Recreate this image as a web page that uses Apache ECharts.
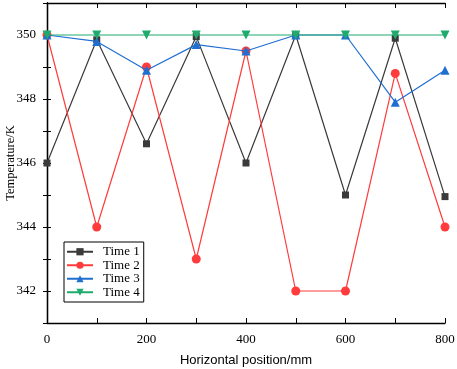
<!DOCTYPE html>
<html><head><meta charset="utf-8">
<script src="https://cdn.jsdelivr.net/npm/echarts@6/dist/echarts.min.js"></script>
<style>html,body{margin:0;padding:0;background:#fff}#c{width:457px;height:369px}</style>
</head><body><div id="c"></div>
<script>
const positions = [0, 100, 200, 300, 400, 500, 600, 700, 800];
const time1 = [346, 349.85, 346.6, 349.95, 346, 350, 345, 349.9, 344.95];
const time2 = [350, 344, 349, 343, 349.5, 342, 342, 348.8, 344];
const time3 = [350, 349.8, 348.9, 349.7, 349.5, 350, 350, 347.9, 348.9];
const time4 = [350, 350, 350, 350, 350, 350, 350, 350, 350];
const seriesNames = ['Time 1', 'Time 2', 'Time 3', 'Time 4'];
const colors = ['#3a3a3a', '#ff3b3b', '#1f6fd1', '#1faa6e'];
const symbols = ['rect', 'circle', 'triangle', 'path://M0,0 L10,0 L5,9 Z'];
const symbolSizes = [7, 9, 9, 9];

const chart = echarts.init(document.getElementById('c'), null, {renderer: 'canvas'});
const serif = 'Liberation Serif';
const allData = [time1, time2, time3, time4];
const series = allData.map((d, i) => ({
  name: seriesNames[i], type: 'line',
  data: d.map((v, j) => [positions[j], v]),
  symbol: symbols[i], symbolSize: symbolSizes[i],
  itemStyle: {color: colors[i]},
  lineStyle: {color: colors[i], width: 1.2},
  z: 2 + i
}));
const axisCommon = {
  axisLine: {show: true, lineStyle: {color: '#000', width: 1.3}},
  splitLine: {show: false}
};
chart.setOption({
  animation: false,
  backgroundColor: '#fff',
  color: colors,
  grid: {left: 47, right: 12, top: 3, bottom: 46, containLabel: false, outerBoundsMode: 'none'},
  legend: {
    orient: 'vertical', left: 64, top: 242, itemGap: 0,
    itemWidth: 26, itemHeight: 9,
    textStyle: {fontFamily: serif, fontSize: 13, color: '#000', lineHeight: 13.5, padding: [0, 0, 0, 5]},
    data: seriesNames,
    borderColor: '#000', borderWidth: 1, padding: [3, 4, 3, 2], backgroundColor: '#fff'
  },
  xAxis: [{
    type: 'value', min: 0, max: 800, interval: 100,
    ...axisCommon,
    axisTick: {inside: true, length: 5, lineStyle: {color: '#000'}},
    axisLabel: {fontFamily: serif, fontSize: 13, color: '#000', margin: 10,
      formatter: v => (v % 200 === 0 ? String(v) : '')},
    name: 'Horizontal position/mm', nameLocation: 'middle', nameGap: 31, nameMoveOverlap: false,
    nameTextStyle: {fontFamily: 'Liberation Sans', fontSize: 13, color: '#000'}
  }, {
    type: 'value', min: 0, max: 800, interval: 100, position: 'top',
    ...axisCommon,
    axisTick: {inside: true, length: 5, lineStyle: {color: '#000'}},
    axisLabel: {show: false}
  }],
  yAxis: [{
    type: 'value', min: 341, max: 351, interval: 1,
    ...axisCommon,
    axisTick: {inside: true, length: 4, lineStyle: {color: '#000'}},
    axisLabel: {fontFamily: serif, fontSize: 13, color: '#000', margin: 11,
      formatter: v => (v % 2 === 0 ? String(v) : '')},
    name: 'Temperature/K', nameLocation: 'middle', nameGap: 30, nameMoveOverlap: false,
    nameTextStyle: {fontFamily: serif, fontSize: 12.5, color: '#000'}
  }, {
    type: 'value', min: 341, max: 351, interval: 1, position: 'right',
    ...axisCommon,
    axisTick: {inside: true, length: 4, lineStyle: {color: '#000'}},
    axisLabel: {show: false}
  }],
  series: series
});
</script></body></html>
